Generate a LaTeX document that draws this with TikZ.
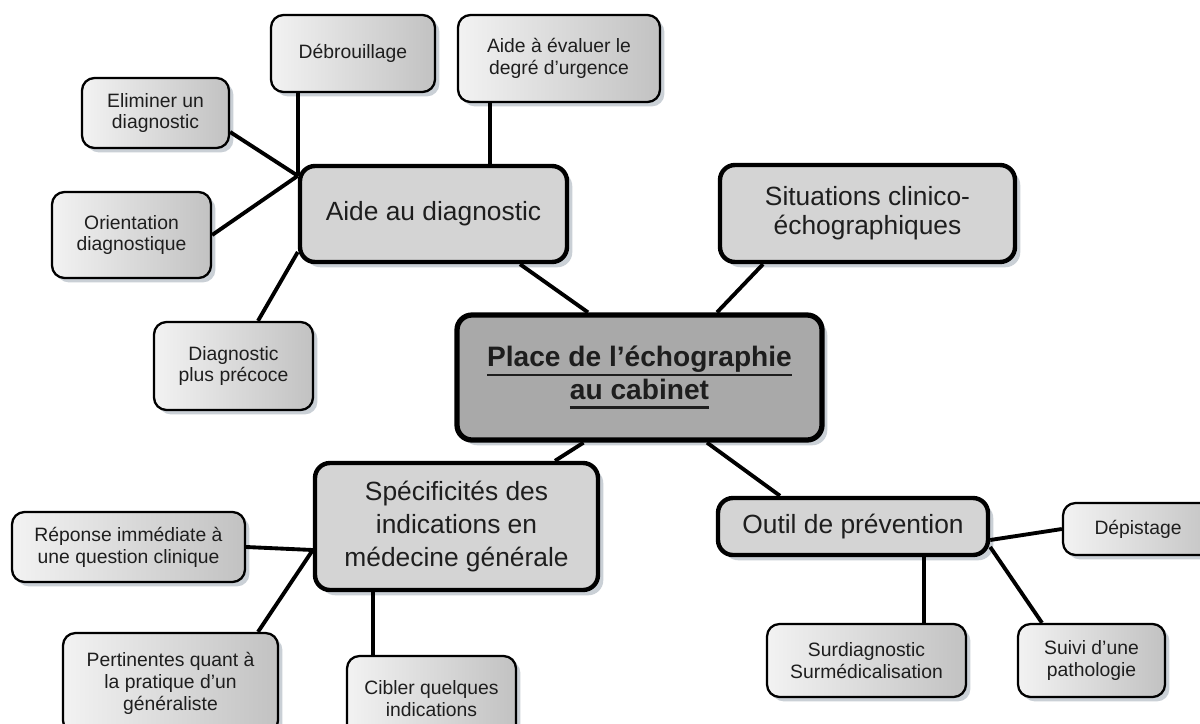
\documentclass[tikz,border=0pt]{standalone}
\usepackage{fontspec}
\setmainfont{Liberation Sans}
\usetikzlibrary{positioning, shadows, calc}
\definecolor{centrecolor}{RGB}{169,169,169}
\definecolor{themecolor}{RGB}{212,212,212}
\definecolor{ombrecolor}{RGB}{150,162,175}
\definecolor{textecolor}{RGB}{30,30,30}
\newcommand{\souligne}[1]{\setbox0\hbox{#1}\dp0=0pt\vtop{\copy0\kern4pt\hrule height 1.5pt}}

\begin{document}
\begin{tikzpicture}[
    centre/.style={draw=black, line width=3pt, rounded corners=0.3cm, fill=centrecolor, text=textecolor, align=center, inner sep=0pt,
        font=\fontsize{16}{18.5}\selectfont\bfseries, drop shadow={shadow xshift=3pt, shadow yshift=-3pt, fill=ombrecolor}},
    theme/.style={draw=black, line width=2.5pt, rounded corners=0.3cm, fill=themecolor, text=textecolor, align=center, inner sep=0pt,
        font=\fontsize{15}{16.5}\selectfont, drop shadow={shadow xshift=3pt, shadow yshift=-3pt, fill=ombrecolor}},
    detail/.style={draw=black, line width=1.3pt, rounded corners=0.25cm, left color=black!5, middle color=white, right color=black!24,
        text=textecolor, align=center, inner sep=0pt, font=\fontsize{11}{12.5}\selectfont,
        drop shadow={shadow xshift=2.5pt, shadow yshift=-2.5pt, fill=ombrecolor}},
    lien/.style={line width=2.2pt}
]
    % Fond et cadre
    \path[use as bounding box, fill=white] (0,0) rectangle (24,-14.46);

    % === Noeud central ===
    \node[centre, minimum width=7.3cm, minimum height=2.5cm] (centre) at (12.79,-7.55)
        {\souligne{Place de l’échographie}\\\souligne{au cabinet}};

    % === Themes ===
    \node[theme, minimum width=5.34cm, minimum height=1.92cm] (aide) at (8.67,-4.28) {Aide au diagnostic};
    \node[theme, minimum width=5.9cm, minimum height=1.94cm] (situ) at (17.35,-4.27) {Situations clinico-\\échographiques};
    \node[theme, minimum width=5.66cm, minimum height=2.54cm, font=\fontsize{15}{19}\selectfont] (spec) at (9.13,-10.53) {Spécificités des\\indications en\\médecine générale};
    \node[theme, minimum width=5.4cm, minimum height=1.14cm] (outil) at (17.06,-10.53) {Outil de prévention};

    % === Details : aide au diagnostic ===
    \node[detail, minimum width=3.28cm, minimum height=1.54cm] (debr) at (7.06,-1.07) {Débrouillage};
    \node[detail, minimum width=4.04cm, minimum height=1.74cm] (eval) at (11.18,-1.17) {Aide à évaluer le\\degré d'urgence};
    \node[detail, minimum width=2.94cm, minimum height=1.4cm] (elim) at (3.11,-2.26) {Eliminer un\\diagnostic};
    \node[detail, minimum width=3.18cm, minimum height=1.72cm] (orient) at (2.63,-4.7) {Orientation\\diagnostique};
    \node[detail, minimum width=3.18cm, minimum height=1.76cm] (precoce) at (4.67,-7.32) {Diagnostic\\plus précoce};

    % === Details : specificites ===
    \node[detail, minimum width=4.66cm, minimum height=1.4cm] (rep) at (2.57,-10.94) {Réponse immédiate à\\une question clinique};
    \node[detail, minimum width=4.3cm, minimum height=2cm] (pert) at (3.41,-13.66) {Pertinentes quant à\\la pratique d'un\\généraliste};
    \node[detail, minimum width=3.38cm, minimum height=1.7cm] (cib) at (8.63,-13.97) {Cibler quelques\\indications};

    % === Details : prevention ===
    \node[detail, minimum width=3.2cm, minimum height=1.04cm] (dep) at (22.86,-10.58) {Dépistage\hspace*{0.2cm}};
    \node[detail, minimum width=3.98cm, minimum height=1.46cm] (sur) at (17.33,-13.21) {Surdiagnostic\\Surmédicalisation};
    \node[detail, minimum width=2.94cm, minimum height=1.46cm] (suivi) at (21.83,-13.21) {Suivi d'une\\pathologie};

    % Liens du centre
    \draw[lien] ([xshift=-1.03cm]centre.north) -- ([xshift=1.73cm]aide.south);
    \draw[lien] ([xshift=1.55cm]centre.north) -- ([xshift=-2.09cm]situ.south);
    \draw[lien] ([xshift=-1.12cm]centre.south) -- ([xshift=1.97cm]spec.north);
    \draw[lien] ([xshift=1.35cm]centre.south) -- ([xshift=-1.46cm]outil.north);

    % Liens aide au diagnostic
    \coordinate (aj) at ([yshift=-0.24cm]aide.north west);
    \coordinate (ej) at ([xshift=-1.38cm]eval.south);
    \draw[lien] (aj |- debr.south) -- (aj);
    \draw[lien] ([yshift=-0.38cm]elim.east) -- (aj);
    \draw[lien] (orient.east) -- (aj);
    \draw[lien] ([xshift=0.49cm]precoce.north) -- ([yshift=-0.76cm]aide.west);
    \draw[lien] (ej) -- (ej |- aide.north);

    % Liens specificites
    \coordinate (sj) at ([yshift=-0.47cm]spec.west);
    \coordinate (cj) at ([xshift=-1.17cm]cib.north);
    \draw[lien] (rep.east) -- (sj);
    \draw[lien] ([xshift=1.75cm]pert.north) -- (sj);
    \draw[lien] (cj) -- (cj |- spec.south);

    % Liens prevention
    \coordinate (oj) at ([xshift=1.15cm]sur.north);
    \draw[lien] ([yshift=-0.27cm]outil.east) -- (dep.west);
    \draw[lien] ([yshift=-0.41cm]outil.east) -- ([xshift=-0.99cm]suivi.north);
    \draw[lien] (oj) -- (oj |- outil.south);
\end{tikzpicture}
\end{document}
